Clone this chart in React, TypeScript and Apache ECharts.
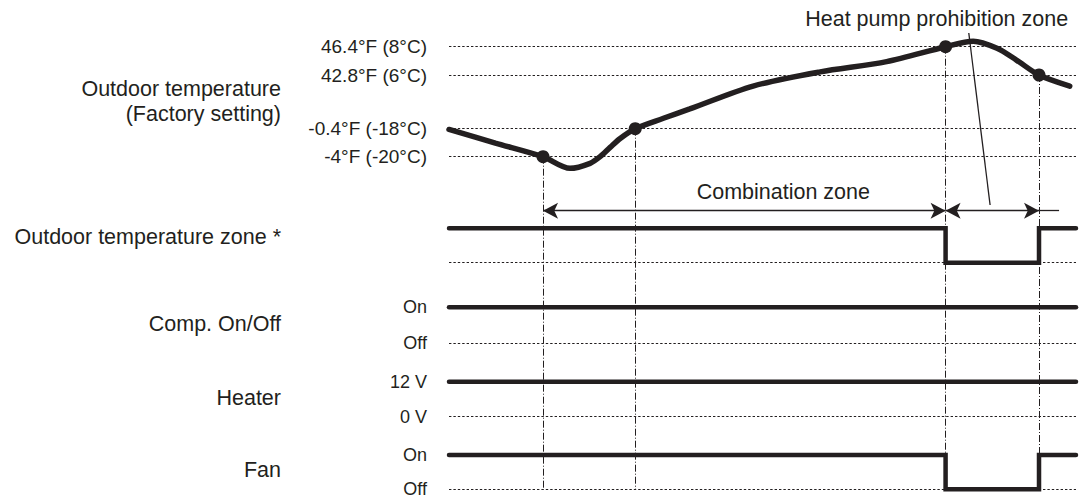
import React, { useEffect, useRef } from "react";
import * as echarts from "echarts";

// ---------- data ----------
const TEMP_TICKS_F = [46.4, 42.8, -0.4, -4];
const TEMP_TICK_LABELS = ["46.4°F (8°C)", "42.8°F (6°C)", "-0.4°F (-18°C)", "-4°F (-20°C)"];

// outdoor temperature curve: [time, °F]
const TEMP_CURVE: [number, number][] = [
  [0, -0.5],
  [7.4, -2.25],
  [15, -4.0],
  [19.3, -5.5],
  [22.5, -4.85],
  [24.1, -4.0],
  [25.7, -2.8],
  [27.3, -1.65],
  [29.7, -0.4],
  [34.2, 8.0],
  [38.4, 15.5],
  [48.5, 33.9],
  [59.2, 43.2],
  [69.8, 44.5],
  [79.2, 46.4],
  [83.6, 47.1],
  [87.4, 46.2],
  [90.5, 44.7],
  [94.1, 42.8],
  [99.0, 33.9],
];

// switching events: time and the temperature reached
const EVENT_TIMES = [15, 29.7, 79.2, 94.1];
const EVENT_TEMPS = [-4, -0.4, 46.4, 42.8];

const LANE_NAMES = ["Outdoor temperature zone *", "Comp. On/Off", "Heater", "Fan"];
const LANE_HIGH_LABELS = ["", "On", "12 V", "On"];
const LANE_LOW_LABELS = ["", "Off", "0 V", "Off"];
// states: [time, 1=high / 0=low], held until next point
const ZONE_STATES: [number, number][] = [[0, 1], [79.2, 0], [94.1, 1], [100, 1]];
const COMP_STATES: [number, number][] = [[0, 1], [100, 1]];
const HEATER_STATES: [number, number][] = [[0, 1], [100, 1]];
const FAN_STATES: [number, number][] = [[0, 1], [79.2, 0], [94.1, 1], [100, 1]];
const LANE_STATES = [ZONE_STATES, COMP_STATES, HEATER_STATES, FAN_STATES];

const COMBINATION_END = 97.3;

// ---------- layout (vertical positions of the diagram rows) ----------
const TEMP_TICK_POS = [46.7, 75, 128.7, 156.7];
const LANE_HIGH_POS = [228.3, 307.3, 381.7, 455];
const LANE_LOW_POS = [262.7, 343.3, 416.7, 489.3];
const LANE_NAME_POS = [236.5, 324, 397.5, 470];
const ARROW_POS = 210.7;
const LEADER: [number, number][] = [[82.9, 33], [86.3, 205]];

const INK = "#231f20";
const FONT = "'Liberation Sans', Arial, Helvetica, sans-serif";

function tempToY(f: number): number {
  // piecewise linear (non-uniform) temperature axis
  const t = TEMP_TICKS_F, p = TEMP_TICK_POS;
  let i = 0;
  if (f >= t[1]) i = 0;
  else if (f >= t[2]) i = 1;
  else i = 2;
  const k = (p[i + 1] - p[i]) / (t[i + 1] - t[i]);
  return p[i] + (f - t[i]) * k;
}

export default function App() {
  const ref = useRef<HTMLDivElement>(null);
  useEffect(() => {
    if (!ref.current) return;
    const chart = echarts.init(ref.current, undefined, { renderer: "svg" });

    const guideLines: any[] = [];
    TEMP_TICKS_F.forEach((f, i) => {
      guideLines.push({
        yAxis: tempToY(f),
        name: TEMP_TICK_LABELS[i],
        label: { fontSize: 19 },
      });
    });
    LANE_NAMES.forEach((_, i) => {
      guideLines.push({
        yAxis: LANE_LOW_POS[i],
        name: LANE_LOW_LABELS[i],
        label: { fontSize: 18 },
      });
      if (LANE_HIGH_LABELS[i]) {
        guideLines.push({
          yAxis: LANE_HIGH_POS[i],
          name: LANE_HIGH_LABELS[i],
          label: { fontSize: 18 },
          lineStyle: { color: "rgba(0,0,0,0)" },
        });
      }
    });

    const bottomY = LANE_LOW_POS[LANE_LOW_POS.length - 1];

    const series: any[] = [
      {
        type: "line",
        name: "guides",
        data: [[0, 0]],
        showSymbol: false,
        lineStyle: { opacity: 0 },
        silent: true,
        z: 1,
        markLine: {
          silent: true,
          symbol: ["none", "none"],
          lineStyle: { color: INK, width: 1, type: [2.4, 2], opacity: 1 },
          label: {
            show: true,
            position: "start",
            formatter: "{b}",
            distance: 22,
            color: INK,
            fontFamily: FONT,
          },
          emphasis: { disabled: true },
          data: guideLines,
        },
      },
      {
        type: "line",
        name: "events",
        data: [[0, 0]],
        showSymbol: false,
        lineStyle: { opacity: 0 },
        silent: true,
        z: 1,
        markLine: {
          silent: true,
          symbol: ["none", "none"],
          lineStyle: { color: INK, width: 1, type: [7, 2, 1, 2] },
          label: { show: false },
          emphasis: { disabled: true },
          data: EVENT_TIMES.map((t, i) => [
            { coord: [t, tempToY(EVENT_TEMPS[i])] },
            { coord: [t, bottomY] },
          ]),
        },
      },
      {
        type: "line",
        name: "zones",
        data: [[0, 0]],
        showSymbol: false,
        lineStyle: { opacity: 0 },
        silent: true,
        z: 2,
        markLine: {
          silent: true,
          symbol: ["arrow", "arrow"],
          symbolSize: [12, 15],
          lineStyle: { color: INK, width: 1.3, type: "solid" },
          itemStyle: { color: INK },
          label: { show: false },
          emphasis: { disabled: true },
          data: [
            [{ coord: [EVENT_TIMES[0], ARROW_POS] }, { coord: [EVENT_TIMES[2], ARROW_POS] }],
            [{ coord: [EVENT_TIMES[2], ARROW_POS] }, { coord: [EVENT_TIMES[3], ARROW_POS] }],
            [
              { coord: [EVENT_TIMES[3], ARROW_POS], symbol: "none" },
              { coord: [COMBINATION_END, ARROW_POS], symbol: "none" },
            ],
            [
              { coord: LEADER[0], symbol: "none" },
              { coord: LEADER[1], symbol: "none" },
            ],
          ],
        },
      },
      ...LANE_STATES.map((states, i) => ({
        type: "line",
        name: LANE_NAMES[i],
        step: "end",
        showSymbol: false,
        silent: true,
        z: 3,
        lineStyle: { color: INK, width: 4.5, cap: "round", join: "miter" },
        data: states.map(([t, s]) => [t, s ? LANE_HIGH_POS[i] : LANE_LOW_POS[i]]),
      })),
      {
        type: "line",
        name: "Outdoor temperature",
        smooth: 0.3,
        showSymbol: false,
        silent: true,
        z: 4,
        lineStyle: { color: INK, width: 5.5, cap: "round" },
        data: TEMP_CURVE.map(([t, f]) => [t, tempToY(f)]),
      },
      {
        type: "scatter",
        name: "events-dots",
        symbol: "circle",
        symbolSize: 13,
        silent: true,
        z: 5,
        itemStyle: { color: INK, opacity: 1 },
        data: EVENT_TIMES.map((t, i) => [t, tempToY(EVENT_TEMPS[i])]),
      },
    ];

    const textStyle = (text: string, x: number, y: number, align = "right") => ({
      type: "text",
      x,
      y,
      silent: true,
      style: {
        text,
        fill: INK,
        font: `21.5px ${FONT}`,
        align,
        verticalAlign: "middle",
        lineHeight: 25,
      },
    });

    chart.setOption({
      animation: false,
      backgroundColor: "#ffffff",
      grid: { left: 449, right: 7, top: 0, bottom: 0 },
      xAxis: { type: "value", min: 0, max: 100, show: false },
      yAxis: { type: "value", min: 0, max: 501, inverse: true, show: false },
      series,
      graphic: [
        textStyle("Outdoor temperature\n(Factory setting)", 281, 101),
        ...LANE_NAMES.map((n, i) => textStyle(n, 281, LANE_NAME_POS[i])),
        textStyle("Heat pump prohibition zone", 936.7, 19.3, "center"),
        textStyle("Combination zone", 783.3, 191.7, "center"),
      ],
    });
    return () => chart.dispose();
  }, []);
  return (
    <div
      ref={ref}
      style={{ position: "absolute", left: 0, top: 0, width: 1083, height: 501 }}
    />
  );
}
